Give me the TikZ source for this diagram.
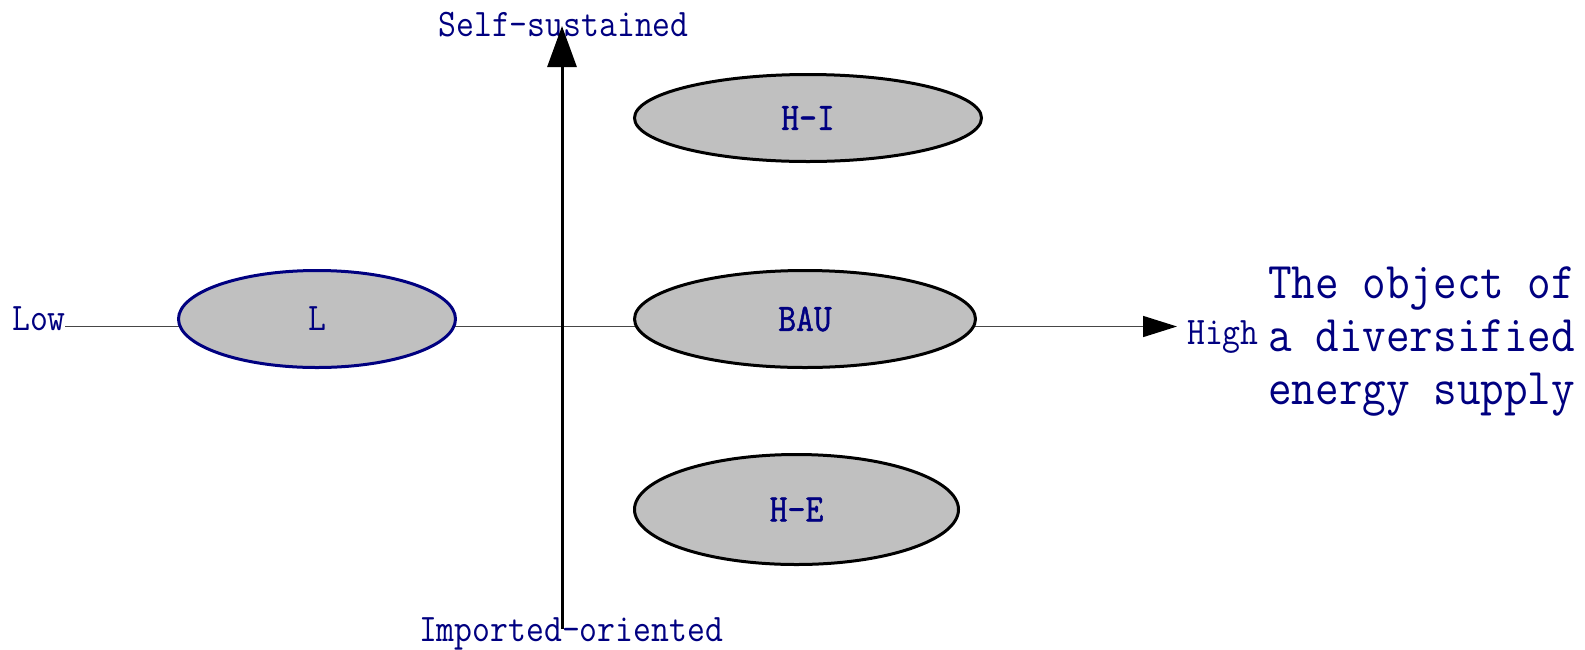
\documentclass[tikz,border=0pt]{standalone}
\usepackage{fontspec}
\usetikzlibrary{arrows.meta,shapes.geometric}
\definecolor{navytext}{RGB}{0,0,128}
\definecolor{bubblefill}{RGB}{192,192,192}
\definecolor{axisgray}{RGB}{70,70,70}
% narrow serif monospace used for every label
\newfontfamily\lmnarrow[FakeStretch=0.89]{Latin Modern Mono}
\newfontfamily\lmnarrowheavy[FakeStretch=0.89,FakeBold=1.2]{Latin Modern Mono}
\begin{document}
\begin{tikzpicture}[x=1pt,y=-1pt,
  lbl/.style={inner sep=0pt, text=navytext, font=\lmnarrow\fontsize{39}{44}\selectfont},
  bigtxt/.style={inner sep=0pt, text=navytext, align=left,
    font=\lmnarrow\fontsize{51.5}{53}\selectfont},
  bubble/.style={ellipse, draw=black, line width=3pt, fill=bubblefill, inner sep=0pt,
    text=navytext, font=\lmnarrowheavy\fontsize{39}{44}\selectfont},
  haxis/.style={draw=axisgray, line width=1.5pt, -{Triangle[length=34pt,width=21pt,color=black]}},
  vaxis/.style={draw=black, line width=3pt, -{Triangle[length=41pt,width=29pt]}}]
\useasboundingbox (0,0) rectangle (1585,649);

% axis labels
\node[lbl, anchor=base] (self) at (563.5,36) {Self-sustained};
\node[lbl, anchor=base] (imp) at (571,641) {Imported-oriented};
\node[lbl, anchor=base west] (low) at (12,330) {Low};
\node[lbl, anchor=base west] (high) at (1187,344) {High};
% multi-line node: its base anchor sits on the last line
\node[bigtxt, anchor=base west] (goal) at (1268,404) {The object of\\a diversified\\energy supply};

% axes
\coordinate (hL) at (65,326.5);
\coordinate (hR) at (1177,326.5);
\coordinate (vB) at (562,629);
\coordinate (vT) at (562,26);
\draw[haxis] (hL) -- (hR);
\draw[vaxis] (vB) -- (vT);

% scenarios
\node[bubble, draw=navytext, font=\lmnarrow\fontsize{39}{44}\selectfont,
      minimum width=277pt, minimum height=97pt] (L) at (317,319) {L};
\node[bubble, minimum width=347pt, minimum height=87pt] (HI) at (808,118) {H-I};
\node[bubble, minimum width=341pt, minimum height=97pt] (BAU) at (805,319) {BAU};
\node[bubble, minimum width=324pt, minimum height=110pt] (HE) at (796.5,509.5) {H-E};
\end{tikzpicture}
\end{document}
